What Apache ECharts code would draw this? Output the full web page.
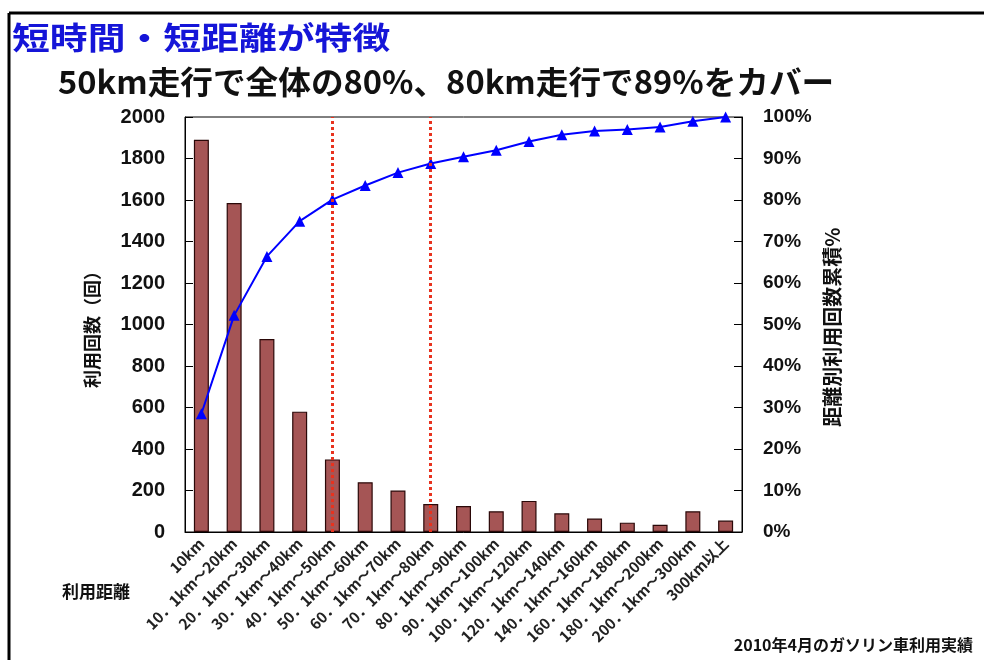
<!DOCTYPE html>
<html>
<head>
<meta charset="utf-8">
<script src="https://cdn.jsdelivr.net/npm/echarts@6/dist/echarts.min.js"></script>
<style>
    html, body { margin: 0; padding: 0; background: #fff; }
    #chart { width: 984px; height: 660px; }
</style>
</head>
<body>
<div id="chart"></div>
<script>
// 利用距離 (カテゴリ)
const distances = [
    '10km', '10．1km～20km', '20．1km～30km', '30．1km～40km', '40．1km～50km',
    '50．1km～60km', '60．1km～70km', '70．1km～80km', '80．1km～90km', '90．1km～100km',
    '100．1km～120km', '120．1km～140km', '140．1km～160km', '160．1km～180km',
    '180．1km～200km', '200．1km～300km', '300km以上'
]
// 利用回数（回）
const useCounts = [1890, 1585, 930, 580, 350, 240, 200, 135, 125, 100, 150, 90, 65, 45, 35, 100, 55]
// 距離別利用回数累積%
const cumulativePct = [28.5, 52.2, 66.4, 74.9, 80.1, 83.5, 86.6, 88.8, 90.4, 92.0, 94.1, 95.7, 96.6, 97.0, 97.6, 99.0, 100]
// 赤い点線の位置 (50km, 80km)
const markedCategories = ['40．1km～50km', '70．1km～80km']

const jpFont = '"Noto Sans CJK JP", sans-serif'
const numFont = '"Liberation Sans", Arial, sans-serif'

const chart = echarts.init(document.getElementById('chart'))

const option = {
    animation: false,
    backgroundColor: '#fff',
    grid: {
        left: 185,
        right: 242,
        top: 117,
        bottom: 128,
        show: true,
        borderColor: '#000',
        borderWidth: 1
    },
    xAxis: {
        type: 'category',
        data: distances,
        axisLine: { lineStyle: { color: '#000', width: 1 } },
        axisTick: { inside: true, length: 5, lineStyle: { color: '#000' } },
        axisLabel: {
            rotate: 45,
            interval: 0,
            margin: 9,
            color: '#222',
            fontFamily: jpFont,
            fontWeight: 'bold',
            fontSize: 15
        }
    },
    yAxis: [
        {
            type: 'value',
            min: 0,
            max: 2000,
            interval: 200,
            splitLine: { show: false },
            axisLine: { show: true, lineStyle: { color: '#000' } },
            axisTick: { show: true, inside: true, length: 8, lineStyle: { color: '#000' } },
            axisLabel: {
                formatter: v => String(v),
                color: '#111',
                fontFamily: numFont,
                fontWeight: 'bold',
                fontSize: 20,
                margin: 20
            }
        },
        {
            type: 'value',
            min: 0,
            max: 100,
            interval: 10,
            splitLine: { show: false },
            axisLine: { show: true, lineStyle: { color: '#000' } },
            axisTick: { show: true, inside: true, length: 8, lineStyle: { color: '#000' } },
            axisLabel: {
                formatter: '{value}%',
                color: '#111',
                fontFamily: numFont,
                fontWeight: 'bold',
                fontSize: 19,
                margin: 21
            }
        }
    ],
    series: [
        {
            name: '利用回数',
            type: 'bar',
            data: useCounts,
            barWidth: 15,
            itemStyle: {
                color: '#a55555',
                borderColor: '#2a0808',
                borderWidth: 1.2
            },
            markLine: {
                silent: true,
                symbol: 'none',
                label: { show: false },
                lineStyle: { color: '#e8321e', type: 'dotted', width: 3 },
                data: markedCategories.map(c => ({ xAxis: c }))
            }
        },
        {
            name: '累積%',
            type: 'line',
            yAxisIndex: 1,
            data: cumulativePct,
            symbol: 'triangle',
            symbolSize: 11,
            lineStyle: { color: '#0000ff', width: 2 },
            itemStyle: { color: '#0000ff' }
        }
    ],
    graphic: [
        // 外枠
        { type: 'line', shape: { x1: 9, y1: 13, x2: 984, y2: 13 }, style: { stroke: '#000', lineWidth: 3 } },
        { type: 'line', shape: { x1: 9, y1: 13, x2: 9, y2: 660 }, style: { stroke: '#000', lineWidth: 3 } },
        {
            type: 'text', x: 12, y: 37, scaleX: 1.22,
            style: {
                text: '短時間・短距離が特徴', fill: '#1515d8',
                font: 'bold 31px ' + jpFont, textVerticalAlign: 'middle'
            }
        },
        {
            type: 'text', x: 58, y: 82, scaleX: 1.02,
            style: {
                text: '50km走行で全体の80%、80km走行で89%をカバー', fill: '#111',
                font: 'bold 32px ' + jpFont, textVerticalAlign: 'middle'
            }
        },
        {
            type: 'text', x: 92, y: 325, rotation: Math.PI / 2,
            style: {
                text: '利用回数（回）', fill: '#111',
                font: 'bold 18px ' + jpFont, textAlign: 'center', textVerticalAlign: 'middle'
            }
        },
        {
            type: 'text', x: 832, y: 327, rotation: Math.PI / 2,
            style: {
                text: '距離別利用回数累積%', fill: '#111',
                font: 'bold 20px ' + jpFont, textAlign: 'center', textVerticalAlign: 'middle'
            }
        },
        {
            type: 'text', x: 62, y: 592,
            style: {
                text: '利用距離', fill: '#111',
                font: 'bold 17px ' + jpFont, textVerticalAlign: 'middle'
            }
        },
        {
            type: 'text', x: 973, y: 645,
            style: {
                text: '2010年4月のガソリン車利用実績', fill: '#111',
                font: 'bold 16px ' + jpFont, textAlign: 'right', textVerticalAlign: 'middle'
            }
        }
    ]
}

chart.setOption(option)
</script>
</body>
</html>
